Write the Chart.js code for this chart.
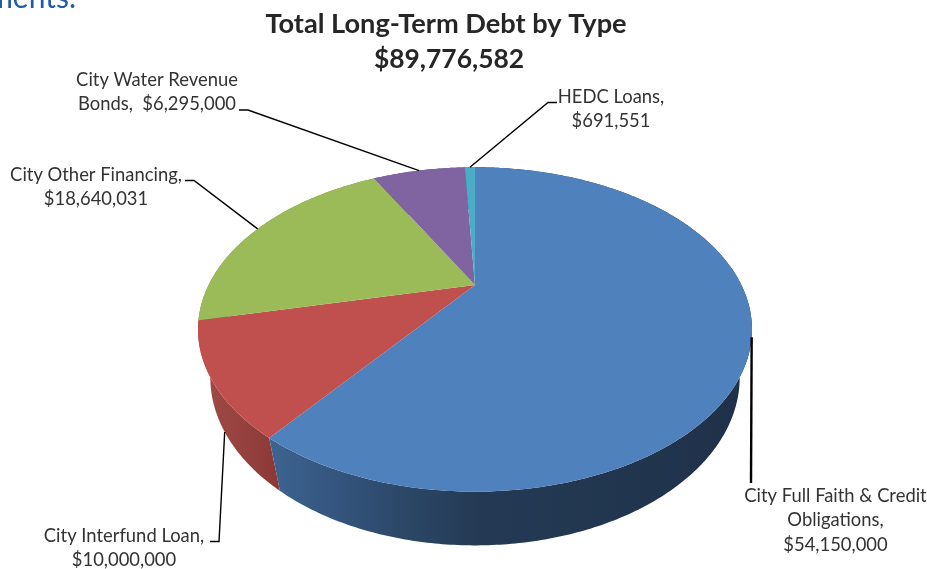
<!DOCTYPE html>
<html>
<head>
<meta charset="utf-8">
<title>Total Long-Term Debt by Type</title>
<script src="https://cdn.jsdelivr.net/npm/chart.js@4/dist/chart.umd.min.js"></script>
<style>
  html, body { margin: 0; padding: 0; background: #fff; }
  canvas { display: block; }
</style>
</head>
<body>
<canvas id="debt" width="927" height="569"></canvas>
<script>
// Debt amounts by type, in dollars
const categories = [
  "City Full Faith & Credit Obligations",
  "City Interfund Loan",
  "City Other Financing",
  "City Water Revenue Bonds",
  "HEDC Loans"
];
const values = [54150000, 10000000, 18640031, 6295000, 691551];
const sliceColors = ["#4f81bd", "#c0504d", "#9bbb59", "#8064a2", "#4bacc6"];
const titleLines = ["Total Long-Term Debt by Type", "$89,776,582"];

// Callout wording; the amount is appended from `values`
const calloutLines = [
  ["City Full Faith & Credit", "Obligations,", ""],
  ["City Interfund Loan,", ""],
  ["City Other Financing,", ""],
  ["City Water Revenue", "Bonds,  "],
  ["HEDC Loans,", ""]
];
// Callout placement: text centre x, first line centre y
const calloutX = [835.5, 124, 96, 157, 611];
const calloutY = [496, 536, 175, 80, 97];
// Leader lines: elbow points leading to the text, and the rim level they start from
const leaderElbows = [
  [[751, 483]],
  [[219, 541.5], [210, 541.5]],
  [[194, 180.5], [185, 180.5]],
  [[248, 110], [239, 110]],
  [[548, 102.5], [557, 102.5]]
];
const leaderDepth = [0, 1, 0, 0, 0];
const leaderWidth = [2.4, 1.4, 1.4, 1.4, 1.4];

// Perspective of the tilted disc: horizontal stretch, foreshortening, thickness
const STRETCH = 1.776, TILT = 0.274, DEPTH_W = 0.043, DEPTH_Y = 0.335;

function project(arc, angle, depth) {
  const u = Math.cos(angle), v = Math.sin(angle);
  const w = 1 - TILT * v + DEPTH_W * depth;
  const r = arc.outerRadius;
  return [arc.x + STRETCH * r * u / w, arc.y + r * (v + DEPTH_Y * depth) / w];
}

function rimPoints(arc, depth, reverse) {
  const pts = [];
  const steps = Math.max(4, Math.ceil((arc.endAngle - arc.startAngle) * 90));
  for (let i = 0; i <= steps; i++) {
    const t = reverse ? 1 - i / steps : i / steps;
    pts.push(project(arc, arc.startAngle + (arc.endAngle - arc.startAngle) * t, depth));
  }
  return pts;
}

function tracePolygon(ctx, pts) {
  ctx.beginPath();
  pts.forEach((p, i) => i ? ctx.lineTo(p[0], p[1]) : ctx.moveTo(p[0], p[1]));
  ctx.closePath();
}

// Pie slices are painted as the projected top face of the disc
Chart.ArcElement.prototype.draw = function (ctx) {
  const pts = [[this.x, this.y]].concat(rimPoints(this, 0, false));
  ctx.save();
  ctx.fillStyle = this.options.backgroundColor;
  tracePolygon(ctx, pts);
  ctx.fill();
  ctx.restore();
};

// Outer wall shading per slice: [colour stops, left x, right x]
const wallShades = [
  [[[0, "#3d6490"], [0.12, "#355781"], [0.28, "#2c4767"], [0.44, "#243a54"], [1, "#1f3149"]], 270, 750],
  [[[0, "#a04a47"], [1, "#8a3836"]], 205, 282],
  [[[0, "#6f8a3e"], [1, "#6f8a3e"]], 190, 380],
  [[[0, "#5a4575"], [1, "#5a4575"]], 370, 470],
  [[[0, "#33798c"], [1, "#33798c"]], 460, 480]
];

const discWall = {
  id: "discWall",
  beforeDatasetsDraw(chart) {
    const ctx = chart.ctx;
    const arcs = chart.getDatasetMeta(0).data;
    // Back slices first so the near wall stays on top
    [2, 3, 4, 1, 0].forEach(i => {
      const arc = arcs[i];
      const [stops, x0, x1] = wallShades[i];
      const g = ctx.createLinearGradient(x0, 0, x1, 0);
      stops.forEach(s => g.addColorStop(s[0], s[1]));
      ctx.save();
      ctx.fillStyle = g;
      tracePolygon(ctx, rimPoints(arc, 0, false).concat(rimPoints(arc, 1, true)));
      ctx.fill();
      ctx.restore();
    });
  }
};

const fmt = n => "$" + n.toLocaleString("en-US");

const annotations = {
  id: "annotations",
  afterDatasetsDraw(chart) {
    const ctx = chart.ctx;
    const arcs = chart.getDatasetMeta(0).data;
    ctx.save();
    ctx.textAlign = "center";
    ctx.textBaseline = "middle";

    // Leader lines
    arcs.forEach((arc, i) => {
      const mid = (arc.startAngle + arc.endAngle) / 2;
      const start = project(arc, mid, leaderDepth[i]);
      ctx.beginPath();
      ctx.moveTo(start[0], start[1]);
      leaderElbows[i].forEach(p => ctx.lineTo(p[0], p[1]));
      ctx.lineWidth = leaderWidth[i];
      ctx.strokeStyle = "#000";
      ctx.stroke();
    });

    // Callout text
    ctx.fillStyle = "#333333";
    ctx.font = "18.4px Lato, sans-serif";
    calloutLines.forEach((lines, i) => {
      lines.forEach((line, j) => {
        const last = j === lines.length - 1;
        const text = last ? line + fmt(values[i]) : line;
        ctx.fillText(text, calloutX[i], calloutY[i] + j * 24.4);
      });
    });

    // Heading
    ctx.fillStyle = "#262626";
    ctx.font = "bold 27.2px Lato, sans-serif";
    ctx.fillText(titleLines[0], 446, 24);
    ctx.font = "bold 26.4px Lato, sans-serif";
    ctx.fillText(titleLines[1], 449, 59);

    // Tail of the running text above the chart, cut by the page edge
    ctx.fillStyle = "#1f5ca6";
    ctx.font = "30px Lato, sans-serif";
    ctx.textAlign = "right";
    ctx.textBaseline = "alphabetic";
    ctx.fillText("ments.", 76, 7.5);
    ctx.restore();
  }
};

new Chart(document.getElementById("debt"), {
  type: "pie",
  data: {
    labels: categories,
    datasets: [{ data: values, backgroundColor: sliceColors, borderWidth: 0 }]
  },
  options: {
    responsive: false,
    animation: false,
    events: [],
    layout: { padding: { left: 23, right: 0, top: 135, bottom: 134 } },
    plugins: { legend: { display: false }, tooltip: { enabled: false }, title: { display: false } }
  },
  plugins: [discWall, annotations]
});
</script>
</body>
</html>
